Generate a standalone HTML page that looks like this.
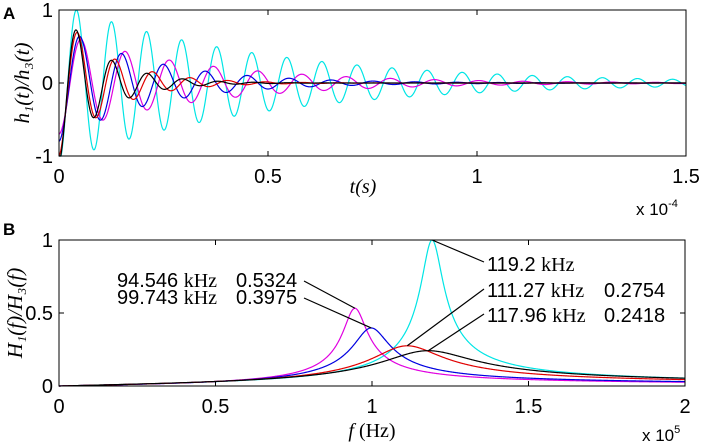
<!DOCTYPE html>
<html><head><meta charset="utf-8"><style>
body{margin:0;background:#fff}
svg{display:block;font-family:"Liberation Sans",sans-serif}
</style></head><body>
<svg id="c" width="702" height="447" viewBox="0 0 702 447">
<text x="3" y="19" font-size="17" font-weight="bold">A</text>
<text x="3" y="235" font-size="17" font-weight="bold">B</text>
<g id="pa"></g>
<g id="pb"></g>
</svg>
<script>
// Shared data
const seriesColors = ["#00e5e5","#e000e0","#0000e0","#e00000","#000000"];
const resFreqKHz = [119.2, 94.546, 99.743, 111.27, 117.96];
const peakValues = [1.0, 0.5324, 0.3975, 0.2754, 0.2418];
const qFactors = [17, 12.5, 8.7, 5, 4];
// Panel A (impulse responses)
const decayUs = [48, 33, 22, 12, 10];
const startAmp = [1.09, 0.7, 0.8, 1.0, 1.1];
const tTicks = [0, 0.5, 1, 1.5];
const hTicks = [-1, 0, 1];
// Panel B (spectra)
const fTicks = [0, 0.5, 1, 1.5, 2];
const HTicks = [0, 0.5, 1];

const NS="http://www.w3.org/2000/svg";
function mk(parent,tag,attrs,text){const e=document.createElementNS(NS,tag);for(const k in attrs)e.setAttribute(k,attrs[k]);if(text!==undefined)e.textContent=text;parent.appendChild(e);return e;}

// Panel A
const A={x0:59,x1:686,y0:10,y1:156};
const ax=t=>A.x0+(t/1.5)*(A.x1-A.x0);
const ay=v=>A.y1-(v+1)/2*(A.y1-A.y0);
const pa=document.getElementById('pa');
resFreqKHz.forEach((f,i)=>{
  let d="";
  for(let k=0;k<=1500;k++){const t=k*0.001; const us=t*100;
    let v=-startAmp[i]*Math.exp(-us/decayUs[i])*Math.cos(2*Math.PI*f*1e3*us*1e-6);
    v=Math.max(-1,Math.min(1,v));
    d+=(k?"L":"M")+ax(t).toFixed(2)+","+ay(v).toFixed(2);}
  const p=mk(pa,"path",{d:d,fill:"none",stroke:seriesColors[i],"stroke-width":1.2});
  
  
});
let fr=mk(pa,"rect",{x:A.x0,y:A.y0,width:A.x1-A.x0,height:A.y1-A.y0,fill:"none",stroke:"#000","stroke-width":1});

tTicks.forEach(t=>{const x=ax(t);
  mk(pa,"line",{x1:x,x2:x,y1:A.y0,y2:A.y0+5,stroke:"#000"});mk(pa,"line",{x1:x,x2:x,y1:A.y1,y2:A.y1-5,stroke:"#000"});
  const l=mk(pa,"text",{x:x,y:183,"font-size":20,"text-anchor":"middle"},String(t));
  });
hTicks.forEach(v=>{const y=ay(v);
  mk(pa,"line",{x1:A.x0,x2:A.x0+5,y1:y,y2:y,stroke:"#000"});mk(pa,"line",{x1:A.x1,x2:A.x1-5,y1:y,y2:y,stroke:"#000"});
  const l=mk(pa,"text",{x:53,y:y+7,"font-size":20,"text-anchor":"end"},String(v));
  });
let tl=mk(pa,"text",{x:363,y:193,"font-size":20,"text-anchor":"middle","font-family":"Liberation Serif,serif","font-style":"italic"},"t(s)");

let e1=mk(pa,"text",{x:636,y:215,"font-size":17},"x 10");mk(e1,"tspan",{dy:-8,"font-size":11},"-4");

let yl=mk(pa,"text",{transform:"translate(29,83) rotate(-90)","font-size":21,"text-anchor":"middle","font-family":"Liberation Serif,serif","font-style":"italic"},"h\u2081(t)/h\u2083(t)");


// Panel B
const B={x0:59,x1:685,y0:240,y1:386};
const bx=f=>B.x0+(f/2)*(B.x1-B.x0);
const by=v=>B.y1-v*(B.y1-B.y0);
const pb=document.getElementById('pb');
const peaks=[];
resFreqKHz.forEach((f0,i)=>{
  let d="";
  for(let k=1;k<=1000;k++){const f=k*0.002; const r=f*100/f0;
    const v=peakValues[i]/Math.sqrt(1+Math.pow(qFactors[i]*(r-1/r),2));
    d+=(k>1?"L":"M")+bx(f).toFixed(2)+","+by(v).toFixed(2);}
  const p=mk(pb,"path",{d:"M"+bx(0)+","+by(0)+"L"+d.slice(1),fill:"none",stroke:seriesColors[i],"stroke-width":1.2});
  
  peaks.push([bx(f0/100),by(peakValues[i])]);
});
fr=mk(pb,"rect",{x:B.x0,y:B.y0,width:B.x1-B.x0,height:B.y1-B.y0,fill:"none",stroke:"#000","stroke-width":1});

fTicks.forEach(t=>{const x=bx(t);
  mk(pb,"line",{x1:x,x2:x,y1:B.y0,y2:B.y0+5,stroke:"#000"});mk(pb,"line",{x1:x,x2:x,y1:B.y1,y2:B.y1-5,stroke:"#000"});
  const l=mk(pb,"text",{x:x,y:413,"font-size":20,"text-anchor":"middle"},String(t));
  });
HTicks.forEach(v=>{const y=by(v);
  mk(pb,"line",{x1:B.x0,x2:B.x0+5,y1:y,y2:y,stroke:"#000"});mk(pb,"line",{x1:B.x1,x2:B.x1-5,y1:y,y2:y,stroke:"#000"});
  const l=mk(pb,"text",{x:53,y:y+7,"font-size":20,"text-anchor":"end"},String(v));
  });
let fl=mk(pb,"text",{x:372,y:437,"font-size":20,"text-anchor":"middle","font-family":"Liberation Serif,serif"});
mk(fl,"tspan",{"font-style":"italic"},"f ");mk(fl,"tspan",{},"(Hz)");

let e2=mk(pb,"text",{x:642,y:441,"font-size":17},"x 10");mk(e2,"tspan",{dy:-8,"font-size":11},"5");

let yl2=mk(pb,"text",{transform:"translate(22,313) rotate(-90)","font-size":21,"text-anchor":"middle","font-family":"Liberation Serif,serif","font-style":"italic"},"H\u2081(f)/H\u2083(f)");


function ann(i,tx,ty,lx,ly,showVal,valX){
  const t=mk(pb,"text",{x:tx,y:ty,"font-size":20});
  mk(t,"tspan",{},resFreqKHz[i]+" ");mk(t,"tspan",{"font-family":"Liberation Serif,serif"},"kHz");
  if(showVal){mk(t,"tspan",{x:valX},peakValues[i].toFixed(4));}
  
  const l=mk(pb,"line",{x1:lx,y1:ly,x2:peaks[i][0],y2:peaks[i][1],stroke:"#000","stroke-width":1.2});
  
}
ann(1,117,287,304,281,true,236);
ann(2,117,304,304,298,true,236);
ann(0,487,271,484,262,false);
ann(3,487,297,484,289,true,604);
ann(4,487,322,484,314,true,604);
</script>
</body></html>
